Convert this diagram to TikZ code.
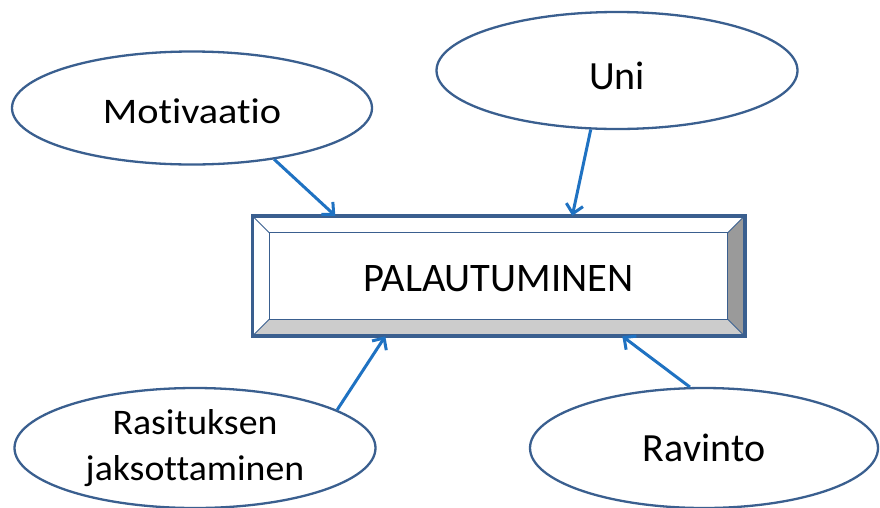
\documentclass[tikz,border=0pt]{standalone}
\usepackage{fontspec}
\setmainfont{Carlito}[Ligatures=NoCommon]
\newfontfamily\widesans{Carlito}[Ligatures=NoCommon,FakeStretch=1.12]
\newfontfamily\semiwidesans{Carlito}[Ligatures=NoCommon,FakeStretch=1.05]
\usetikzlibrary{shapes.geometric,arrows.meta,calc}
\definecolor{rim}{HTML}{3A5F8F}
\definecolor{link}{HTML}{1F72C2}
\definecolor{bevelside}{HTML}{9A9A9A}
\definecolor{bevelbase}{HTML}{CCCCCC}
\tikzset{
  bubble/.style={ellipse, draw=rim, line width=2.3pt, fill=white, inner sep=0pt,
    font=\fontsize{40}{48}\selectfont, text depth=0pt},
  feed/.style={draw=link, line width=3pt, -{Straight Barb[length=9pt,width=17pt,line width=3pt]}},
  bevelline/.style={draw=rim, line width=1pt},
}
\begin{document}
\begin{tikzpicture}[x=1pt,y=-1pt]
\useasboundingbox (0,0) rectangle (880,507);
\begin{scope}
\clip (0,0) rectangle (880,507);
% factor bubbles
\node[bubble, minimum width=360pt, minimum height=113pt,
  font=\widesans\fontsize{36}{44}\selectfont, text height=30pt] (mot) at (192,108) {Motivaatio};
\node[bubble, minimum width=361pt, minimum height=117pt, text height=37pt] (uni) at (617,70.5) {Uni};
\node[bubble, minimum width=361pt, minimum height=120pt, align=center, text depth=,
  font=\semiwidesans\fontsize{36}{45.5}\selectfont] (ras) at (195,448) {Rasituksen\\jaksottaminen};
\node[bubble, minimum width=348pt, minimum height=120pt, text height=26pt] (rav) at (704,448) {Ravinto};

% bevelled central box
\node[minimum width=492pt, minimum height=120pt, inner sep=0pt] (box) at (498.5,276) {};
\coordinate (ol) at (box.north west);
\coordinate (or) at (box.north east);
\coordinate (ur) at (box.south east);
\coordinate (ul) at (box.south west);
\coordinate (il) at ($(ol)+(17,17)$);
\coordinate (ir) at ($(or)+(-17,17)$);
\coordinate (jr) at ($(ur)+(-17,-17)$);
\coordinate (jl) at ($(ul)+(17,-17)$);
\fill[white] (ol) -- (or) -- (ir) -- (il) -- cycle;
\fill[white] (ol) -- (il) -- (jl) -- (ul) -- cycle;
\fill[bevelside] (or) -- (ur) -- (jr) -- (ir) -- cycle;
\fill[bevelbase] (ul) -- (ur) -- (jr) -- (jl) -- cycle;
\draw[bevelline] (il) rectangle (jr);
\draw[bevelline] (ol) -- (il) (or) -- (ir) (ur) -- (jr) (ul) -- (jl);
\draw[draw=rim, line width=3.6pt] (ol) rectangle (ur);
\node[font=\fontsize{40.5}{48}\selectfont, text height=30pt, text depth=0pt] (title) at (box.center) {PALAUTUMINEN};

% connectors
\draw[feed] (mot.-32) -- ($(box.north west)+(83,0)$);
\draw[feed] (uni.-114) -- ($(box.north west)+(320,0)$);
\draw[feed] (ras.15) -- ($(box.south west)+(133,0)$);
\draw[feed] (rav.103) -- ($(box.south west)+(370,0)$);
\end{scope}
\end{tikzpicture}
\end{document}
